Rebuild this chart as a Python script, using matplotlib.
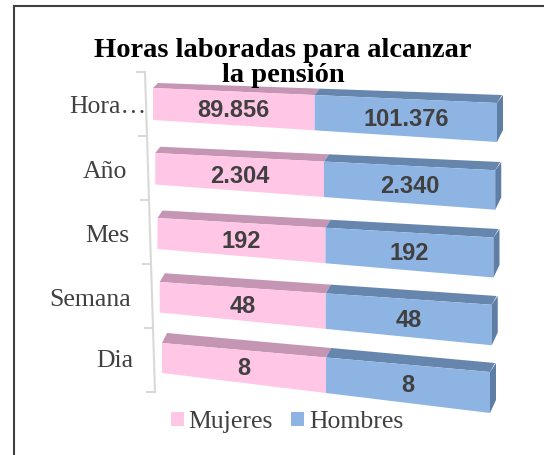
import matplotlib
matplotlib.use('Agg')
import matplotlib.pyplot as plt
from matplotlib.patches import Polygon, Patch
import numpy as np

# data
categorias = ['Hora…', 'Año', 'Mes', 'Semana', 'Dia']
mujeres = [89856, 2304, 192, 48, 8]
hombres = [101376, 2340, 192, 48, 8]
etiq_muj = ['89.856', '2.304', '192', '48', '8']
etiq_hom = ['101.376', '2.340', '192', '48', '8']
series = ['Mujeres', 'Hombres']

col_front = ['#FFC6E6', '#8DB4E2']
col_top = ['#C596B3', '#6786AE']
col_end = '#5F7EA6'
gris = '#404040'

fig = plt.figure(figsize=(5.44, 4.55), dpi=100)
ax = fig.add_axes([0, 0, 1, 1])
ax.set_xlim(0, 544)
ax.set_ylim(455, 0)
ax.axis('off')

n = len(categorias)
# perspective layout of the pseudo 3D bars (pixel space)
x_left = np.linspace(153, 162, n)
x_right = np.linspace(497, 490, n)
yt_left = np.array([88, 153, 218, 282, 343])
yb_left = yt_left + np.linspace(32, 30, n)
yt_right = np.linspace(103, 372, n)
yb_right = np.linspace(142, 413, n)
depth_l = np.linspace(5, 10, n)
depth_r = np.linspace(8, 9, n)
dx_back = 5


def proj(i, f, v):
    # f: fraction along the bar, v: 0 top .. 1 bottom of the front face
    x = x_left[i] + f * (x_right[i] - x_left[i])
    yt = yt_left[i] + f * (yt_right[i] - yt_left[i])
    yb = yb_left[i] + f * (yb_right[i] - yb_left[i])
    return x, yt + v * (yb - yt)


def depth(i, f):
    return depth_l[i] + f * (depth_r[i] - depth_l[i])


for i in range(n):
    total = mujeres[i] + hombres[i]
    bounds = [0, mujeres[i] / total, 1.0]
    labels = [etiq_muj[i], etiq_hom[i]]
    for s in range(2):
        f0, f1 = bounds[s], bounds[s + 1]
        a = proj(i, f0, 0)
        b = proj(i, f1, 0)
        c = proj(i, f1, 1)
        d = proj(i, f0, 1)
        # top face
        top = [a, b, (b[0] + dx_back, b[1] - depth(i, f1)), (a[0] + dx_back, a[1] - depth(i, f0))]
        ax.add_patch(Polygon(top, closed=True, facecolor=col_top[s], edgecolor='none'))
        ax.add_patch(Polygon([a, b, c, d], closed=True, facecolor=col_front[s], edgecolor='none'))
        cx, cy = proj(i, (f0 + f1) / 2, 0.5)
        ax.text(cx, cy + 2, labels[s], ha='center', va='center', fontsize=17,
                fontweight='bold', color=gris, family='Liberation Sans')
    # end face
    b = proj(i, 1, 0)
    c = proj(i, 1, 1)
    dd = depth(i, 1)
    end = [b, (b[0] + dx_back + 1, b[1] - dd), (c[0] + dx_back + 1, c[1] - dd - 4), c]
    ax.add_patch(Polygon(end, closed=True, facecolor=col_end, edgecolor='none'))

# category axis
ax_top, ax_bot = 72, 392
ax.plot([145, 155], [ax_top, ax_bot], color='#D9D9D9', lw=1.5)
ticks = np.linspace(ax_top, ax_bot, n + 1)
for t in ticks:
    xa = 145 + (t - ax_top) / (ax_bot - ax_top) * 10
    ax.plot([xa - 8, xa], [t, t], color='#D9D9D9', lw=1.5)

for i, cat in enumerate(categorias):
    ymid = (yt_left[i] + yb_left[i]) / 2 + 3
    xa = 145 + (ymid - ax_top) / (ax_bot - ax_top) * 10
    pad = 0 if cat.endswith('…') else 21
    ax.text(xa - pad, ymid, cat, ha='right', va='center', fontsize=18.5,
            color=gris, family='Liberation Serif')

ax.text(283, 63, 'Horas laboradas para alcanzar\nla pensión', ha='center', va='center',
        fontsize=20.5, fontweight='bold', family='Liberation Serif', color='black',
        linespacing=1.0)

# frame lines (left and top only)
ax.plot([14, 14], [455, 6], color=gris, lw=1.5)
ax.plot([14, 544], [6, 6], color=gris, lw=1.5)

handles = [Patch(facecolor=col_front[0]), Patch(facecolor=col_front[1])]
ax.legend(handles, series, ncol=2, loc='center', bbox_to_anchor=(287 / 544, 1 - 422 / 455),
          frameon=False, handlelength=0.5, handleheight=0.5, columnspacing=0.7,
          handletextpad=0.2, prop={'family': 'Liberation Serif', 'size': 18.5},
          labelcolor=gris)

fig.savefig('out.png', dpi=100)
